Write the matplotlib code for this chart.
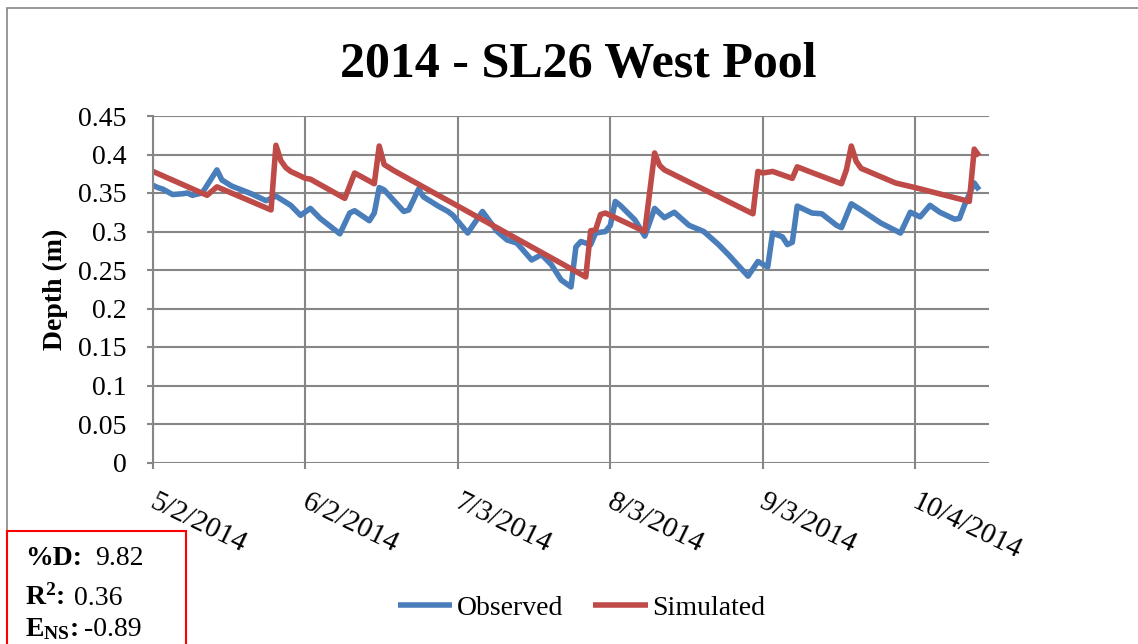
import pandas as pd
import matplotlib
matplotlib.use("Agg")
import matplotlib.pyplot as plt
from matplotlib.patches import Rectangle
from matplotlib.transforms import ScaledTranslation

plt.rcParams['font.family'] = ['Liberation Serif', 'DejaVu Serif']
plt.rcParams['mathtext.fontset'] = 'custom'
plt.rcParams['mathtext.rm'] = 'Liberation Serif'
plt.rcParams['mathtext.bf'] = 'Liberation Serif:bold'

# observed depth (m)
obs_dates = [
    "2014-05-02", "2014-05-03", "2014-05-04", "2014-05-06", "2014-05-08", "2014-05-09",
    "2014-05-10", "2014-05-12", "2014-05-15", "2014-05-16", "2014-05-18", "2014-05-20",
    "2014-05-22", "2014-05-25", "2014-05-27", "2014-05-30", "2014-06-01", "2014-06-03",
    "2014-06-05", "2014-06-09", "2014-06-11", "2014-06-12", "2014-06-15", "2014-06-16",
    "2014-06-17", "2014-06-18", "2014-06-22", "2014-06-23", "2014-06-25", "2014-06-26",
    "2014-06-29", "2014-07-01", "2014-07-02", "2014-07-05", "2014-07-08", "2014-07-11",
    "2014-07-13", "2014-07-15", "2014-07-18", "2014-07-20", "2014-07-22", "2014-07-24",
    "2014-07-26", "2014-07-27", "2014-07-28", "2014-07-29", "2014-07-30", "2014-07-31",
    "2014-08-02", "2014-08-03", "2014-08-04", "2014-08-05", "2014-08-08", "2014-08-10",
    "2014-08-12", "2014-08-14", "2014-08-16", "2014-08-19", "2014-08-22", "2014-08-25",
    "2014-08-27", "2014-08-31", "2014-09-02", "2014-09-04", "2014-09-05", "2014-09-07",
    "2014-09-08", "2014-09-09", "2014-09-10", "2014-09-11", "2014-09-13", "2014-09-15",
    "2014-09-18", "2014-09-19", "2014-09-21", "2014-09-23", "2014-09-27", "2014-10-01",
    "2014-10-03", "2014-10-05", "2014-10-07", "2014-10-09", "2014-10-12", "2014-10-13",
    "2014-10-14", "2014-10-16", "2014-10-17",
]
obs_depth = [
    0.360, 0.357, 0.355, 0.348, 0.349, 0.350,
    0.347, 0.350, 0.380, 0.367, 0.359, 0.354,
    0.349, 0.340, 0.346, 0.334, 0.321, 0.330,
    0.317, 0.297, 0.324, 0.327, 0.314, 0.324,
    0.357, 0.354, 0.326, 0.328, 0.355, 0.345,
    0.333, 0.326, 0.321, 0.298, 0.326, 0.300,
    0.289, 0.285, 0.263, 0.270, 0.257, 0.237,
    0.228, 0.280, 0.287, 0.285, 0.283, 0.298,
    0.300, 0.308, 0.339, 0.334, 0.315, 0.294,
    0.330, 0.318, 0.325, 0.308, 0.300, 0.283,
    0.270, 0.242, 0.261, 0.254, 0.298, 0.293,
    0.283, 0.286, 0.333, 0.330, 0.324, 0.323,
    0.308, 0.305, 0.336, 0.328, 0.311, 0.298,
    0.325, 0.319, 0.334, 0.325, 0.316, 0.317,
    0.334, 0.363, 0.354,
]

# simulated depth (m)
sim_dates = [
    "2014-05-02", "2014-05-13", "2014-05-15", "2014-05-26", "2014-05-27", "2014-05-28",
    "2014-05-29", "2014-05-30", "2014-05-31", "2014-06-02", "2014-06-03", "2014-06-10",
    "2014-06-12", "2014-06-16", "2014-06-17", "2014-06-18", "2014-06-20", "2014-07-29",
    "2014-07-30", "2014-07-31", "2014-08-01", "2014-08-02", "2014-08-10", "2014-08-12",
    "2014-08-13", "2014-08-14", "2014-09-01", "2014-09-02", "2014-09-03", "2014-09-05",
    "2014-09-09", "2014-09-10", "2014-09-12", "2014-09-19", "2014-09-20", "2014-09-21",
    "2014-09-22", "2014-09-23", "2014-09-30", "2014-10-04", "2014-10-15", "2014-10-16",
    "2014-10-17",
]
sim_depth = [
    0.378, 0.347, 0.358, 0.328, 0.412, 0.392,
    0.383, 0.378, 0.375, 0.369, 0.368, 0.343,
    0.376, 0.362, 0.411, 0.387, 0.379, 0.241,
    0.301, 0.302, 0.322, 0.324, 0.300, 0.402,
    0.386, 0.380, 0.323, 0.378, 0.376, 0.378,
    0.369, 0.384, 0.379, 0.362, 0.380, 0.411,
    0.391, 0.382, 0.363, 0.357, 0.339, 0.407,
    0.398,
]

tick_dates = ["2014-05-02", "2014-06-02", "2014-07-03", "2014-08-03", "2014-09-03", "2014-10-04"]
tick_labels = ["5/2/2014", "6/2/2014", "7/3/2014", "8/3/2014", "9/3/2014", "10/4/2014"]
y_ticks = [0, 0.05, 0.1, 0.15, 0.2, 0.25, 0.3, 0.35, 0.4, 0.45]
y_labels = ["0", "0.05", "0.1", "0.15", "0.2", "0.25", "0.3", "0.35", "0.4", "0.45"]

# fit statistics
stat_names = ["%D:", r"$\mathbf{R^{2}}$:", r"$\mathbf{E_{NS}}$:"]
stat_values = ["9.82", "0.36", "-0.89"]

grid_c = '#868686'
blue = '#4A7EBB'
red = '#BE4B48'

fig = plt.figure(figsize=(11.38, 6.44), dpi=100)
W, H = 1138, 644
ax = fig.add_axes([153 / W, 1 - 462.5 / H, (989 - 153) / W, (462.5 - 116) / H])

ax.plot(pd.to_datetime(obs_dates), obs_depth, color=blue, lw=4.0,
        solid_joinstyle='round', solid_capstyle='butt', label='Observed')
ax.plot(pd.to_datetime(sim_dates), sim_depth, color=red, lw=4.0,
        solid_joinstyle='round', solid_capstyle='butt', label='Simulated')

ax.set_xlim(pd.Timestamp("2014-05-02"), pd.Timestamp("2014-10-19"))
ax.set_ylim(0, 0.45)
ax.set_xticks(pd.to_datetime(tick_dates))
ax.set_xticklabels(tick_labels)
ax.set_yticks(y_ticks)
ax.set_yticklabels(y_labels)

ax.grid(True, color=grid_c, lw=1.5)
ax.set_axisbelow(True)
for s in ['top', 'right', 'bottom']:
    ax.spines[s].set_visible(False)
ax.spines['left'].set_color(grid_c)
ax.spines['left'].set_linewidth(1.5)
ax.tick_params(axis='both', colors=grid_c, labelcolor='black', labelsize=20,
               length=4, width=1.5, direction='out')
ax.tick_params(axis='y', pad=15)
ax.tick_params(axis='x', pad=15, labelsize=21)
for lab in ax.get_xticklabels():
    lab.set_rotation(-26)
    lab.set_ha('left')
    lab.set_va('top')
    lab.set_rotation_mode('anchor')
    lab.set_transform(lab.get_transform() + ScaledTranslation(4 / 100, 0, fig.dpi_scale_trans))

ax.set_ylabel("Depth (m)", fontsize=20, fontweight='bold', labelpad=7)

fig.text(0.508, 1 - 77 / H, "2014 - SL26 West Pool", ha='center', va='baseline',
         fontsize=36, fontweight='bold')

fig.legend(loc='center', bbox_to_anchor=(581.5 / W, 1 - 608 / H), ncol=2, frameon=False,
           fontsize=20, handlelength=1.95, handletextpad=0.15, columnspacing=1.1)

# outer chart border
fig.add_artist(Rectangle((7 / W, -0.05), 1.1, 1.05 - 8 / H, transform=fig.transFigure,
                         fill=False, ec=grid_c, lw=1.2))

# statistics box
fig.add_artist(Rectangle((7 / W, -0.05), (186 - 7) / W, 0.05 + 1 - 531 / H,
                         transform=fig.transFigure, fill=True, fc='white', ec='red', lw=1.5))
name_y = [565, 605, 636]
value_x = [95, 74, 84]
for name, val, yy, vx in zip(stat_names, stat_values, name_y, value_x):
    fig.text(25 / W, 1 - yy / H, name, fontsize=20, fontweight='bold', va='baseline')
    fig.text(vx / W, 1 - yy / H, val, fontsize=20, va='baseline')

fig.savefig("out.png", dpi=100)
